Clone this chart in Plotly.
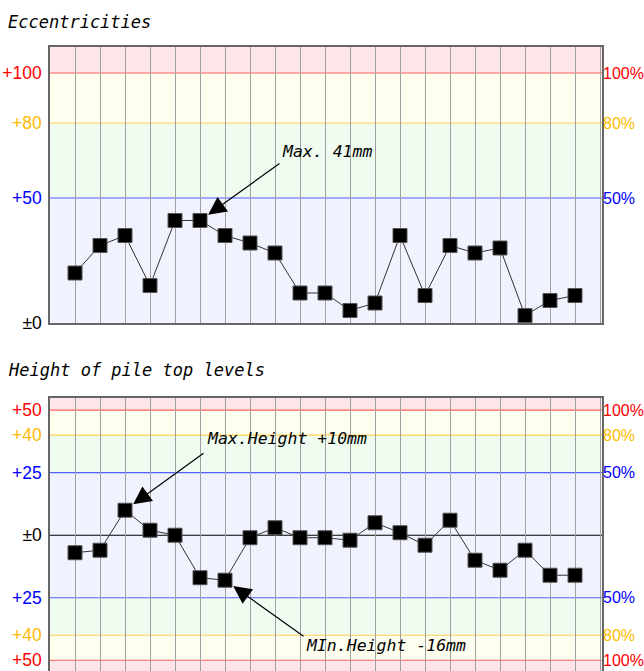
import plotly.graph_objects as go

# ---- data ----
pile_no = list(range(1, 22))
eccentricity = [20, 31, 35, 15, 41, 41, 35, 32, 28, 12, 12, 5, 8, 35, 11, 31, 28, 30, 3, 9, 11]
height_level = [-7, -6, 10, 2, 0, -17, -18, -1, 3, -1, -1, -2, 5, 1, -4, 6, -10, -14, -6, -16, -16]

ecc_ticks = [0, 50, 80, 100]
ecc_ticklabels = ["±0", "+50", "+80", "+100"]
ecc_pct = ["", "50%", "80%", "100%"]
hgt_ticks = [-50, -40, -25, 0, 25, 40, 50]
hgt_ticklabels = ["+50", "+40", "+25", "±0", "+25", "+40", "+50"]
hgt_pct = ["100%", "80%", "50%", "", "50%", "80%", "100%"]

RED, ORANGE, BLUE, BLACK = "#FF0000", "#FFBA00", "#0000FF", "#000000"
ecc_colors = [BLACK, BLUE, ORANGE, RED]
hgt_colors = [RED, ORANGE, BLUE, BLACK, BLUE, ORANGE, RED]

W, H = 644, 671
ML, MR, MT, MB = 50, 42, 47, 0
PH = H - MT - MB
PW = W - ML - MR


def pd_y(py):
    return 1 - (py - MT) / PH


fig = go.Figure()

marker = dict(symbol="square", size=14, color="black", line=dict(color="#555", width=1))
fig.add_trace(go.Scatter(x=pile_no, y=eccentricity, mode="lines+markers",
                         line=dict(color="#333", width=1), marker=marker,
                         xaxis="x", yaxis="y", hoverinfo="skip", showlegend=False))
fig.add_trace(go.Scatter(x=pile_no, y=height_level, mode="lines+markers",
                         line=dict(color="#333", width=1), marker=marker,
                         xaxis="x2", yaxis="y2", hoverinfo="skip", showlegend=False))

XR = [0, 22.08]
shapes = []
bands_top = [(100, 111, "#FDE5E8"), (80, 100, "#FFFFF0"), (50, 80, "#F1FCF1"), (0, 50, "#F0F3FE")]
for y0, y1, c in bands_top:
    shapes.append(dict(type="rect", xref="x", yref="y", x0=XR[0], x1=XR[1], y0=y0, y1=y1,
                       fillcolor=c, line=dict(width=0), layer="below"))
bands_bot = [(50, 56, "#FDE5E8"), (40, 50, "#FFFFF0"), (25, 40, "#F1FCF1"), (-25, 25, "#F0F3FE"),
             (-40, -25, "#F1FCF1"), (-50, -40, "#FFFFF0"), (-56, -50, "#FDE5E8")]
for y0, y1, c in bands_bot:
    shapes.append(dict(type="rect", xref="x2", yref="y2", x0=XR[0], x1=XR[1], y0=y0, y1=y1,
                       fillcolor=c, line=dict(width=0), layer="below"))

line_col = {RED: "#FF6060", ORANGE: "#FFD050", BLUE: "#5060FF", BLACK: "#000000"}
for v, c in zip(ecc_ticks, ecc_colors):
    if v == 0:
        continue
    shapes.append(dict(type="line", xref="x", yref="y", x0=XR[0], x1=XR[1], y0=v, y1=v,
                       line=dict(color=line_col[c], width=1.2), layer="below"))
for v, c in zip(hgt_ticks, hgt_colors):
    shapes.append(dict(type="line", xref="x2", yref="y2", x0=XR[0], x1=XR[1], y0=v, y1=v,
                       line=dict(color=line_col[c], width=1.2), layer="below"))

fig.update_layout(shapes=shapes)

tick_font = dict(family="Liberation Sans, Arial", size=17.5)
pct_font = dict(family="Liberation Sans, Arial", size=16)


def colored(labels, colors):
    return [f"<span style='color:{c}'>{t}</span>" for t, c in zip(labels, colors)]


axis_common = dict(showline=True, linecolor="#666", linewidth=1.5, mirror=True, zeroline=False,
                   automargin=False)
xgrid = dict(tickmode="array", tickvals=list(range(1, 23)), showticklabels=False, ticks="",
             showgrid=True, gridcolor="#A0A0A0", gridwidth=1, range=XR, **axis_common)

top_lo, bot_hi = pd_y(323), pd_y(397.7)
fig.update_layout(
    width=W, height=H,
    margin=dict(l=ML, r=MR, t=MT, b=MB, autoexpand=False),
    paper_bgcolor="white", plot_bgcolor="white",
    xaxis=dict(domain=[0, 1], anchor="y", **xgrid),
    xaxis2=dict(domain=[0, 1], anchor="y2", **xgrid),
    yaxis=dict(domain=[top_lo, 1], anchor="x", range=[0, 110.4], tickmode="array",
               tickvals=ecc_ticks, ticktext=colored(ecc_ticklabels, ecc_colors),
               tickfont=tick_font, showgrid=False, ticks="", ticklabelstandoff=3, **axis_common),
    yaxis2=dict(domain=[0, bot_hi], anchor="x2", range=[-54.3, 55], tickmode="array",
                tickvals=hgt_ticks, ticktext=colored(hgt_ticklabels, hgt_colors),
                tickfont=tick_font, showgrid=False, ticks="", ticklabelstandoff=3, **axis_common),
)

anns = []
for v, t, c in zip(ecc_ticks, ecc_pct, ecc_colors):
    if t:
        anns.append(dict(xref="paper", yref="y", x=1, y=v, text=t, showarrow=False,
                         xanchor="left", yanchor="middle", xshift=-1, font=dict(color=c, **pct_font)))
for v, t, c in zip(hgt_ticks, hgt_pct, hgt_colors):
    if t:
        anns.append(dict(xref="paper", yref="y2", x=1, y=v, text=t, showarrow=False,
                         xanchor="left", yanchor="middle", xshift=-1, font=dict(color=c, **pct_font)))

title_font = dict(family="DejaVu Sans Mono", size=17, color="black")
anns.append(dict(xref="paper", yref="paper", x=(6 - ML) / PW, y=pd_y(22),
                 text="<i>Eccentricities</i>", showarrow=False, xanchor="left", yanchor="middle",
                 font=title_font))
anns.append(dict(xref="paper", yref="paper", x=(6 - ML) / PW, y=pd_y(370),
                 text="<i>Height of pile top levels</i>", showarrow=False, xanchor="left",
                 yanchor="middle", font=title_font))

ann_font = dict(family="DejaVu Sans Mono", size=16.5, color="black")
arrow = dict(showarrow=True, arrowhead=2, arrowsize=3, arrowwidth=1.2, arrowcolor="black",
             text="", axref="pixel", ayref="pixel")
# Max eccentricity
imax = 6
anns.append(dict(xref="x", yref="y", x=imax, y=eccentricity[imax - 1], ax=81, ay=-58,
                 standoff=10, **arrow))
anns.append(dict(xref="x", yref="y", x=imax, y=eccentricity[imax - 1], xshift=80, yshift=69,
                 text=f"<i>Max. {max(eccentricity)}mm</i>", showarrow=False, xanchor="left",
                 yanchor="middle", font=ann_font))
# Max height
ihi = height_level.index(max(height_level)) + 1
anns.append(dict(xref="x2", yref="y2", x=ihi, y=height_level[ihi - 1], ax=80, ay=-58,
                 standoff=10, **arrow))
anns.append(dict(xref="x2", yref="y2", x=ihi, y=height_level[ihi - 1], xshift=80, yshift=72,
                 text=f"<i>Max.Height +{max(height_level)}mm</i>", showarrow=False,
                 xanchor="left", yanchor="middle", font=ann_font))
# Min height (as labelled in the reference)
ilo = 7
anns.append(dict(xref="x2", yref="y2", x=ilo, y=height_level[ilo - 1], ax=80, ay=57,
                 standoff=10, **arrow))
anns.append(dict(xref="x2", yref="y2", x=ilo, y=height_level[ilo - 1], xshift=79, yshift=-65,
                 text="<i>MIn.Height -16mm</i>", showarrow=False, xanchor="left",
                 yanchor="middle", font=ann_font))

fig.update_layout(annotations=anns)
fig.write_html("out.html", config={"displayModeBar": False},
               post_script="document.body.style.margin='0';document.body.style.overflow='hidden';")
